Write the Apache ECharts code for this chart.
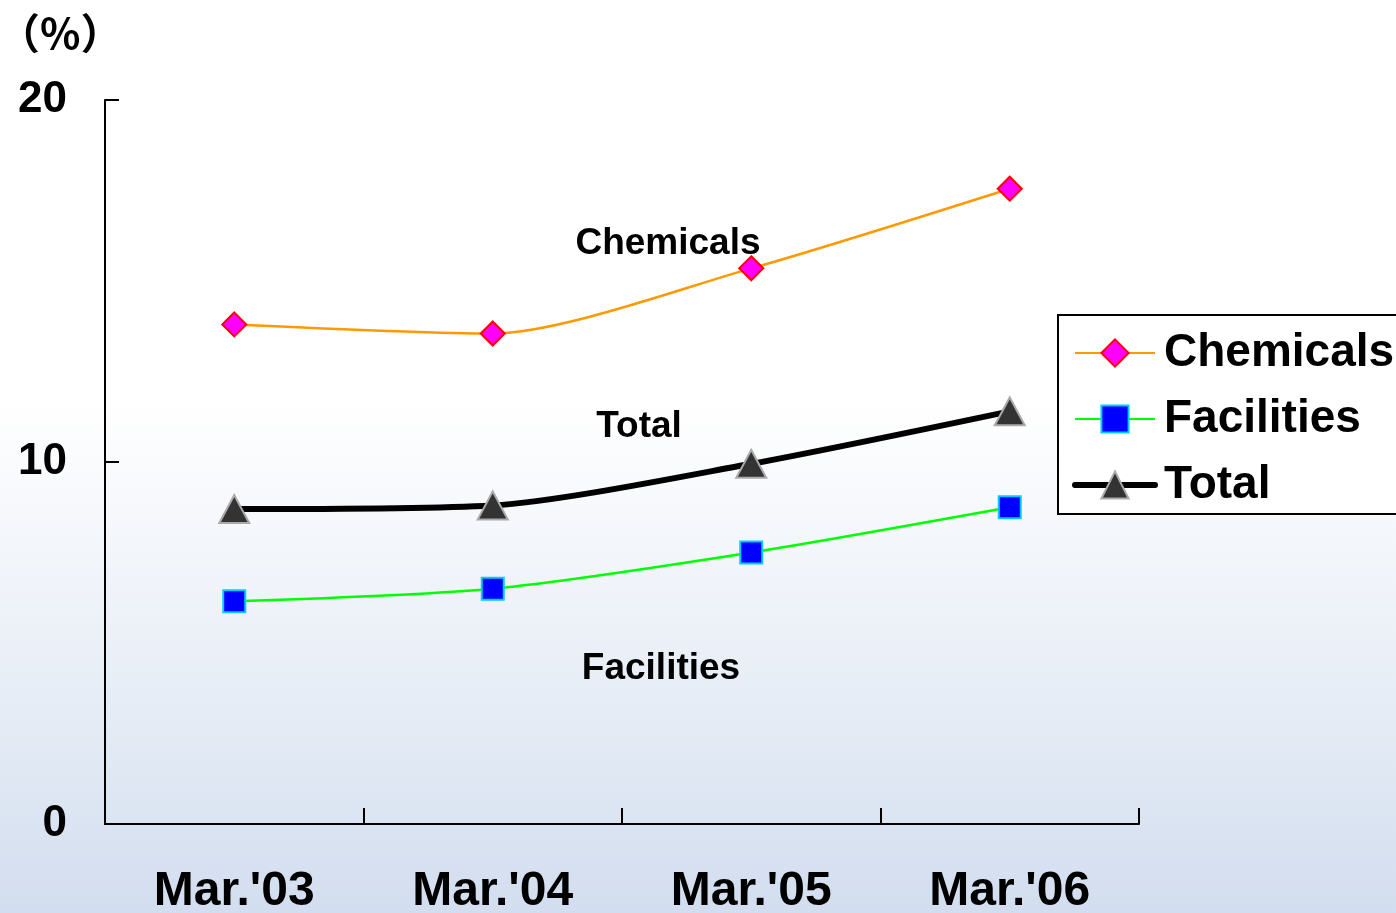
<!DOCTYPE html>
<html>
<head>
<meta charset="utf-8">
<script src="https://cdn.jsdelivr.net/npm/echarts@6/dist/echarts.min.js"></script>
<style>
html,body{margin:0;padding:0;}
#chart{width:1396px;height:913px;}
</style>
</head>
<body>
<div id="chart"></div>
<script>
var categories = ["Mar.'03", "Mar.'04", "Mar.'05", "Mar.'06"];
var chemicals = [13.8, 13.55, 15.35, 17.55];
var facilities = [6.15, 6.5, 7.5, 8.75];
var total = [8.7, 8.8, 9.95, 11.4];
var yTicks = [0, 10, 20];
var unitLabel = '（%）';

var chart = echarts.init(document.getElementById('chart'));
var F = '"Liberation Sans", Arial, sans-serif';
chart.setOption({
  backgroundColor: {
    type: 'linear', x: 0, y: 0, x2: 0, y2: 1,
    colorStops: [
      {offset: 0, color: '#ffffff'},
      {offset: 0.44, color: '#ffffff'},
      {offset: 0.6, color: '#f3f6fb'},
      {offset: 0.8, color: '#e4ebf5'},
      {offset: 1, color: '#d2ddef'}
    ]
  },
  animation: false,
  grid: {left: 105, right: 257, top: 100, bottom: 89, outerBoundsMode: 'none', containLabel: false},
  xAxis: {
    type: 'category',
    data: categories,
    boundaryGap: true,
    axisLine: {show: true, lineStyle: {color: '#000', width: 2}},
    axisTick: {show: true, interval: 0, inside: true, length: 16, lineStyle: {color: '#000', width: 2}},
    axisLabel: {color: '#000', fontFamily: F, fontWeight: 'bold', fontSize: 48, margin: 44}
  },
  yAxis: {
    type: 'value', min: 0, max: 20, interval: 10,
    splitLine: {show: false},
    axisLine: {show: true, lineStyle: {color: '#000', width: 2}},
    axisTick: {show: true, inside: true, length: 14, lineStyle: {color: '#000', width: 2}},
    axisLabel: {color: '#000', fontFamily: F, fontWeight: 'bold', fontSize: 44, margin: 38,
      formatter: function (v) { return yTicks.indexOf(v) >= 0 ? String(v) : ''; }}
  },
  legend: {
    orient: 'vertical', left: 1058, top: 315,
    borderColor: '#000', borderWidth: 2, backgroundColor: '#ffffff',
    padding: [13, 40, 4, 14],
    itemWidth: 80, itemHeight: 34, itemGap: 16,
    textStyle: {color: '#000', fontFamily: F, fontWeight: 'bold', fontSize: 46, lineHeight: 50, padding: [0, 0, 0, 4]},
    data: [
      {name: 'Chemicals'},
      {name: 'Facilities'},
      {name: 'Total', lineStyle: {width: 6, cap: 'round'}}
    ]
  },
  graphic: [
    {type: 'text', left: -2, top: 12, style: {text: unitLabel, fontFamily: '"Noto Sans CJK JP"', fontSize: 42, fontWeight: 'bold', fill: '#000'}},
    {type: 'text', x: 668, y: 244, style: {text: 'Chemicals', font: 'bold 37px ' + F, fill: '#000', textAlign: 'center', textVerticalAlign: 'middle'}},
    {type: 'text', x: 639, y: 427, style: {text: 'Total', font: 'bold 37px ' + F, fill: '#000', textAlign: 'center', textVerticalAlign: 'middle'}},
    {type: 'text', x: 661, y: 669, style: {text: 'Facilities', font: 'bold 37px ' + F, fill: '#000', textAlign: 'center', textVerticalAlign: 'middle'}}
  ],
  series: [
    {
      name: 'Chemicals', type: 'line', data: chemicals, smooth: 0.25,
      lineStyle: {color: '#ff9900', width: 2.5},
      itemStyle: {color: '#ff00ff', borderColor: '#ff0000', borderWidth: 2},
      symbol: 'diamond', symbolSize: 24
    },
    {
      name: 'Facilities', type: 'line', data: facilities, smooth: 0.25,
      lineStyle: {color: '#00ff00', width: 2.5},
      itemStyle: {color: '#0000ff', borderColor: '#00ccff', borderWidth: 2},
      symbol: 'rect', symbolSize: 22
    },
    {
      name: 'Total', type: 'line', data: total, smooth: 0.25,
      lineStyle: {color: '#000000', width: 6},
      itemStyle: {color: '#333333', borderColor: '#aaaaaa', borderWidth: 2},
      symbol: 'triangle', symbolSize: [30, 28]
    }
  ]
});
</script>
</body>
</html>
